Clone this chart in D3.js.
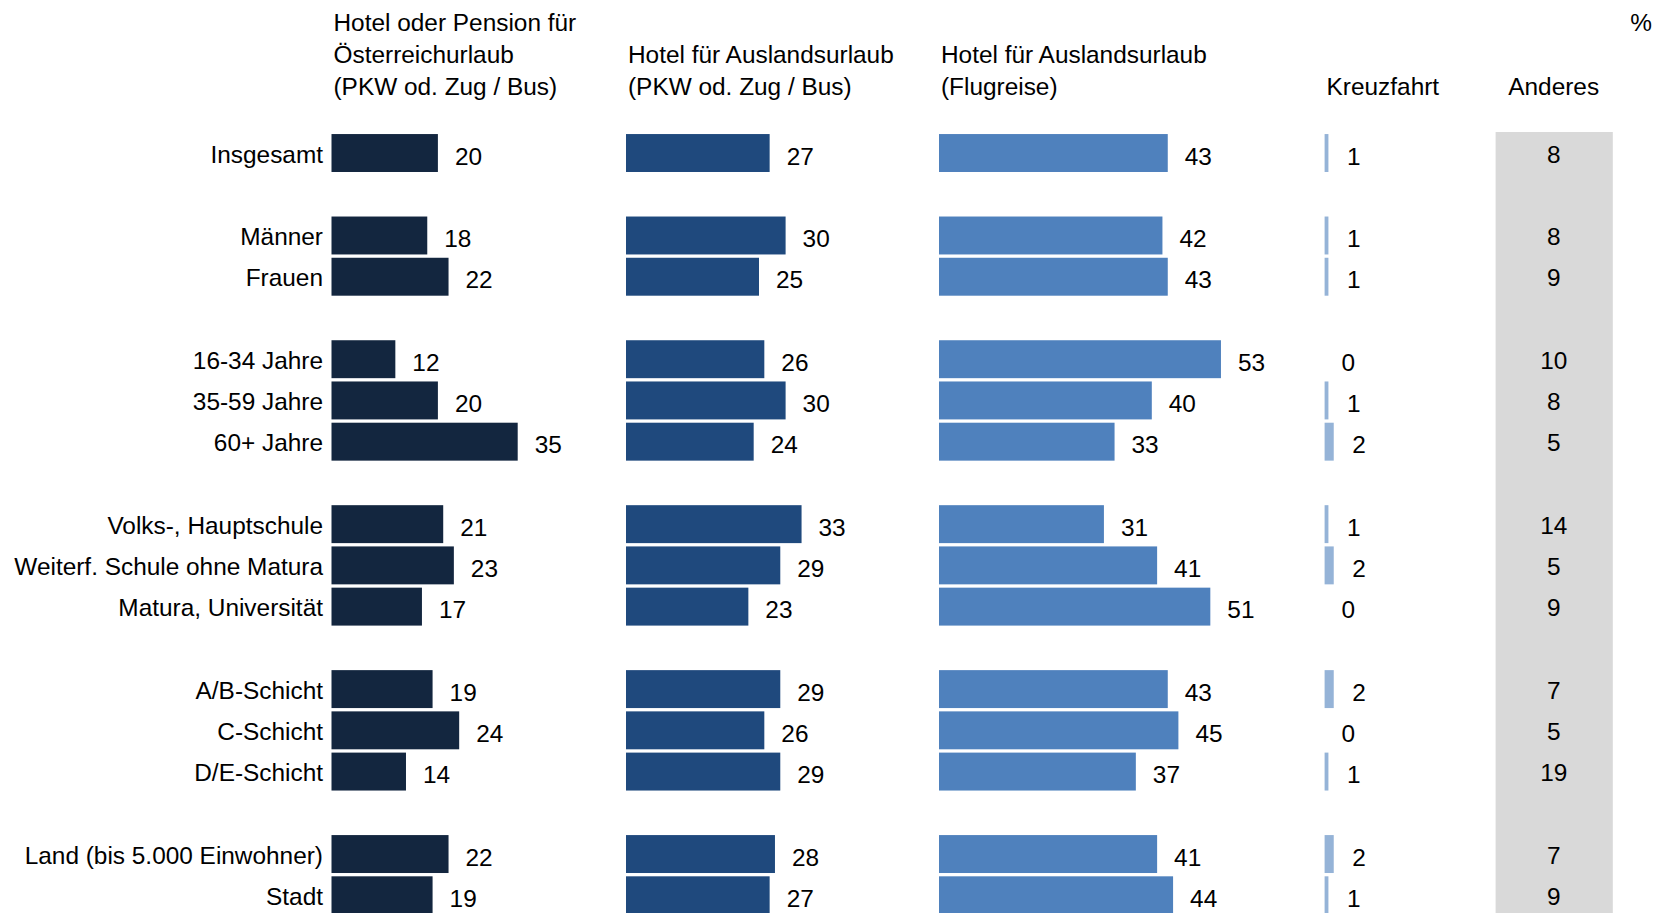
<!DOCTYPE html>
<html><head><meta charset="utf-8">
<script src="https://cdn.jsdelivr.net/npm/d3@7"></script>
<style>
html,body{margin:0;padding:0;background:#fff;}
svg{display:block;font-family:"Liberation Sans",Arial,sans-serif;}
</style></head><body>
<svg id="chart" width="1655" height="913"></svg>
<script>
const categories = ["Insgesamt","","Männer","Frauen","","16-34 Jahre","35-59 Jahre","60+ Jahre","","Volks-, Hauptschule","Weiterf. Schule ohne Matura","Matura, Universität","","A/B-Schicht","C-Schicht","D/E-Schicht","","Land (bis 5.000 Einwohner)","Stadt"];
const hotelOesterreich = [20,null,18,22,null,12,20,35,null,21,23,17,null,19,24,14,null,22,19];
const hotelAuslandLand = [27,null,30,25,null,26,30,24,null,33,29,23,null,29,26,29,null,28,27];
const hotelAuslandFlug = [43,null,42,43,null,53,40,33,null,31,41,51,null,43,45,37,null,41,44];
const kreuzfahrt      = [1,null,1,1,null,0,1,2,null,1,2,0,null,2,0,1,null,2,1];
const anderes         = [8,null,8,9,null,10,8,5,null,14,5,9,null,7,5,19,null,7,9];
const seriesTitles = [
  ["Hotel oder Pension für","Österreichurlaub","(PKW od. Zug / Bus)"],
  ["Hotel für Auslandsurlaub","(PKW od. Zug / Bus)"],
  ["Hotel für Auslandsurlaub","(Flugreise)"],
  ["Kreuzfahrt"]
];
const anderesTitle = "Anderes";
const unitLabel = "%";

const series = [hotelOesterreich, hotelAuslandLand, hotelAuslandFlug, kreuzfahrt];
const colors = ["#13263f","#1f497d","#4f81bd","#95b3d7"];
const colX = [331.5, 626, 939, 1324.6];

const svg = d3.select("#chart");
const y = d3.scaleBand().domain(d3.range(categories.length)).range([132.4, 915.9]).paddingInner(0.08).paddingOuter(0.04);
const x = d3.scaleLinear().domain([0,100]).range([0,532]);
const fs = 24.4;

// gray band for Anderes
svg.append("rect").attr("x",1495.6).attr("y",132).attr("width",117.2).attr("height",913-132).attr("fill","#d9d9d9");

// headers
const baseY = [31, 63, 95];
seriesTitles.forEach((lines,si)=>{
  const off = 3 - lines.length;
  lines.forEach((t,li)=>{
    svg.append("text").attr("x",colX[si]+2).attr("y",baseY[off+li]).attr("font-size",fs).attr("fill","#000").text(t);
  });
});
svg.append("text").attr("x",1553.7).attr("y",baseY[2]).attr("text-anchor","middle").attr("font-size",fs).attr("fill","#000").text(anderesTitle);
svg.append("text").attr("x",1652).attr("y",baseY[0]).attr("text-anchor","end").attr("font-size",fs).attr("fill","#000").text(unitLabel);

// category labels
categories.forEach((c,i)=>{
  if(!c) return;
  svg.append("text").attr("x",323).attr("y",y(i)+y.bandwidth()/2+1).attr("dy","0.35em")
    .attr("text-anchor","end").attr("font-size",fs).attr("fill","#000").text(c);
});

// bars
series.forEach((vals,si)=>{
  const g = svg.append("g").attr("transform",`translate(${colX[si]},0)`);
  const data = vals.map((v,i)=>({v,i})).filter(d=>d.v!==null);
  g.selectAll("rect").data(data).join("rect")
    .attr("x",0).attr("y",d=>y(d.i)).attr("width",d=>Math.max(0, x(d.v) - (si===3 ? 1.5 : 0))).attr("height",y.bandwidth())
    .attr("fill",colors[si]);
  g.selectAll("text").data(data).join("text")
    .attr("x",d=>x(d.v)+17).attr("y",d=>y(d.i)+y.bandwidth()/2+3).attr("dy","0.35em")
    .attr("font-size",fs).attr("fill","#000").text(d=>d.v);
});

// Anderes values
anderes.forEach((v,i)=>{
  if(v===null) return;
  svg.append("text").attr("x",1553.7).attr("y",y(i)+y.bandwidth()/2+1).attr("dy","0.35em")
    .attr("text-anchor","middle").attr("font-size",fs).attr("fill","#000").text(v);
});
</script>
</body></html>
